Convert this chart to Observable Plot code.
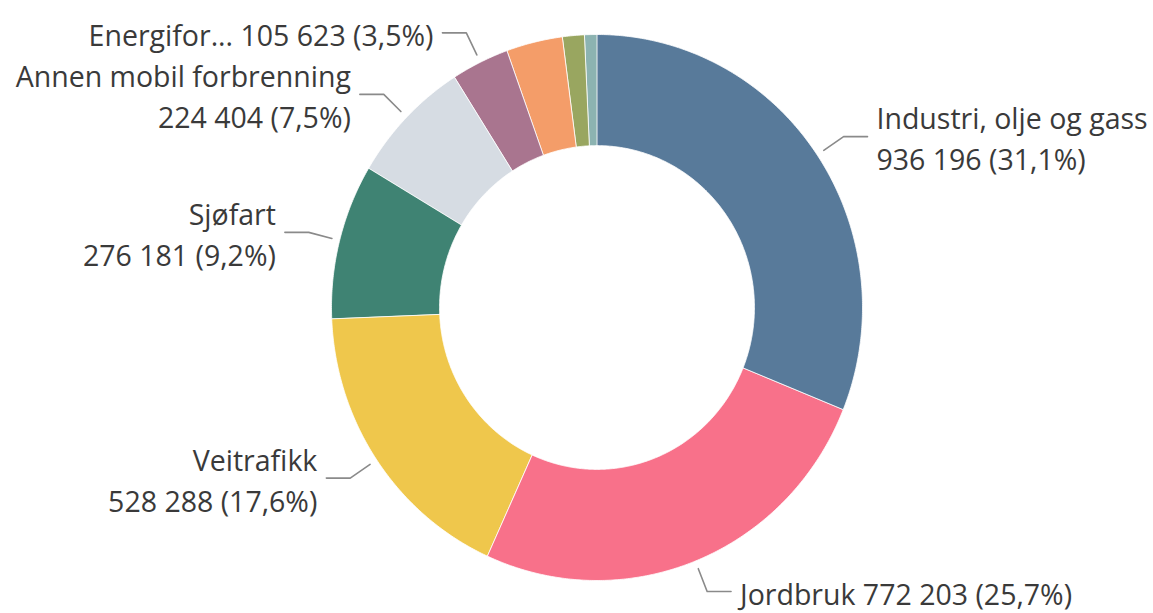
<!DOCTYPE html>
<html>
<head>
<meta charset="utf-8">
<script src="https://cdn.jsdelivr.net/npm/d3@7"></script>
<script src="https://cdn.jsdelivr.net/npm/@observablehq/plot@0.6"></script>
<style>
  html, body { margin: 0; padding: 0; background: #ffffff; }
  #chart { width: 1153px; height: 613px; }
</style>
</head>
<body>
<div id="chart"></div>
<script>
// ---- data ----
const categories = [
  "Industri, olje og gass",
  "Jordbruk",
  "Veitrafikk",
  "Sjøfart",
  "Annen mobil forbrenning",
  "Energiforsyning",
  "Oppvarming i andre næringer og husholdninger",
  "Luftfart",
  "Andre kilder"
];
const values = [936196, 772203, 528288, 276181, 224404, 105623, 103000, 40000, 22000];
// label text shown next to each slice (null = no label)
const labelNames = ["Industri, olje og gass", "Jordbruk", "Veitrafikk", "Sjøfart",
  "Annen mobil forbrenning", "Energifor...", null, null, null];
const labelTwoLines = [true, false, true, true, true, false, false, false, false];
const colors = ["#587a9a", "#f8718a", "#efc74c", "#3f8373", "#d6dce3",
  "#a9758f", "#f49d69", "#99a660", "#8cb3b1"];

// ---- derived ----
const locale = d3.formatLocale({decimal: ",", thousands: " ", grouping: [3], currency: ["", ""]});
const fmtInt = locale.format(",d");
const fmtPct = locale.format(".1f");
const total = d3.sum(values);
const rows = categories.map((c, i) => ({name: c, value: values[i], i}));
const arcs = d3.pie().sort(null).value(d => d.value).startAngle(0).endAngle(2 * Math.PI)(rows);

const R_OUT = 1, R_IN = 0.593;
const polyPts = [];
for (const a of arcs) {
  const n = Math.max(2, Math.ceil((a.endAngle - a.startAngle) / 0.008));
  for (let k = 0; k <= n; k++) {
    const t = a.startAngle + (a.endAngle - a.startAngle) * k / n;
    polyPts.push({name: a.data.name, x: R_OUT * Math.sin(t), y: R_OUT * Math.cos(t)});
  }
  for (let k = n; k >= 0; k--) {
    const t = a.startAngle + (a.endAngle - a.startAngle) * k / n;
    polyPts.push({name: a.data.name, x: R_IN * Math.sin(t), y: R_IN * Math.cos(t)});
  }
}

// leader lines and labels
const R_START = 1.03, R_ELBOW = 1.12, H_LEN = 0.09;
const leaderPts = [];
const labels = [];
for (const a of arcs) {
  const i = a.data.i;
  if (!labelNames[i]) continue;
  const m = (a.startAngle + a.endAngle) / 2;
  const side = Math.sin(m) >= 0 ? 1 : -1;
  const sx = R_START * Math.sin(m), sy = R_START * Math.cos(m);
  const ex = R_ELBOW * Math.sin(m), ey = R_ELBOW * Math.cos(m);
  const hx = ex + side * H_LEN;
  leaderPts.push({name: a.data.name, x: sx, y: sy});
  leaderPts.push({name: a.data.name, x: ex, y: ey});
  leaderPts.push({name: a.data.name, x: hx, y: ey});
  const valueText = fmtInt(a.data.value) + " (" + fmtPct(a.data.value / total * 100) + "%)";
  labels.push({
    side,
    x: hx,
    y: ey,
    text: labelNames[i] + (labelTwoLines[i] ? "\n" : " ") + valueText
  });
}

const textStyle = {
  fontSize: 28.5,
  lineHeight: 1.43,
  fill: "#3a3a3a",
  lineAnchor: "middle",
  fontFamily: "'Open Sans', sans-serif"
};

const chart = Plot.plot({
  width: 1153,
  height: 613,
  marginLeft: 331,
  marginRight: 291,
  marginTop: 34,
  marginBottom: 33,
  x: {domain: [-1, 1], axis: null},
  y: {domain: [-1, 1], axis: null},
  color: {domain: categories, range: colors},
  style: {fontFamily: "'Open Sans', sans-serif", background: "#ffffff"},
  marks: [
    Plot.line(polyPts, {x: "x", y: "y", z: "name", fill: "name", stroke: "#ffffff", strokeWidth: 0.8, curve: "linear-closed"}),
    Plot.line(leaderPts, {x: "x", y: "y", z: "name", stroke: "#8a8a8a", strokeWidth: 1.6}),
    Plot.text(labels.filter(d => d.side > 0), {x: "x", y: "y", text: "text", textAnchor: "start", dx: 9, ...textStyle}),
    Plot.text(labels.filter(d => d.side < 0), {x: "x", y: "y", text: "text", textAnchor: "end", dx: -9, ...textStyle})
  ]
});
document.getElementById("chart").appendChild(chart);
</script>
</body>
</html>
